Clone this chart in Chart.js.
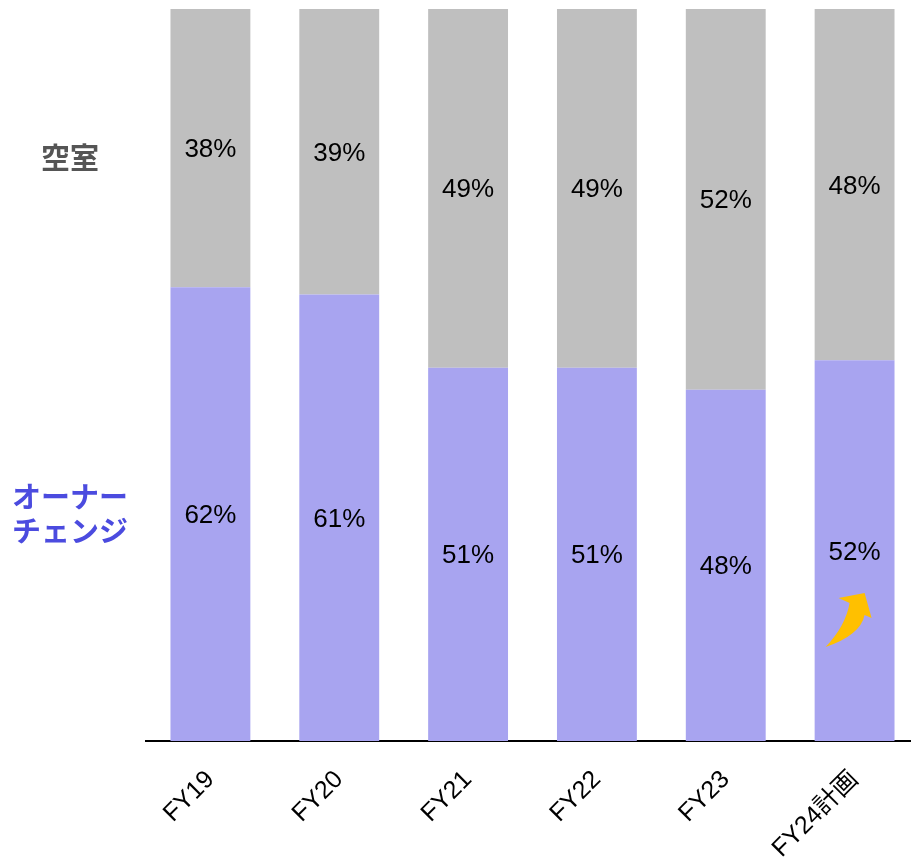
<!DOCTYPE html>
<html lang="ja">
<head>
<meta charset="utf-8">
<title>空室・オーナーチェンジ比率</title>
<script src="https://cdn.jsdelivr.net/npm/chart.js@4.4.0/dist/chart.umd.min.js"></script>
<style>
  html, body { margin: 0; padding: 0; background: #fff; overflow: hidden; }
  #wrap { position: relative; width: 920px; height: 859px; }
</style>
</head>
<body>
<div id="wrap"><canvas id="ratio-chart"></canvas></div>
<script>
// fiscal years on the x axis
const years = ['FY19', 'FY20', 'FY21', 'FY22', 'FY23', 'FY24計画'];
// share of owner-change deals (%), bottom of each bar
const ownerChange = [62, 61, 51, 51, 48, 52];
// share of vacant deals (%), top of each bar
const vacant = [38, 39, 49, 49, 52, 48];

const seriesNames = ['オーナーチェンジ', '空室'];
const colors = { owner: '#a8a4f0', vacant: '#bfbfbf' };
const jpFont = '"Liberation Sans", "Noto Sans CJK JP", sans-serif';

// percentage text centred inside every segment
const segmentLabels = {
    id: 'segmentLabels',
    afterDatasetsDraw(chart) {
        const ctx = chart.ctx;
        ctx.save();
        ctx.font = '26px ' + jpFont;
        ctx.fillStyle = '#000';
        ctx.textAlign = 'center';
        ctx.textBaseline = 'alphabetic';
        chart.data.datasets.forEach((ds, i) => {
            chart.getDatasetMeta(i).data.forEach((bar, j) => {
                const mid = (bar.y + bar.base) / 2;
                ctx.fillText(ds.data[j] + '%', bar.x, mid + 9);
            });
        });
        ctx.restore();
    }
};

// series names written to the left of the first bar
const sideLegend = {
    id: 'sideLegend',
    afterDraw(chart) {
        const ctx = chart.ctx;
        const x = chart.chartArea.left / 2 - 3;
        const owner = chart.getDatasetMeta(0).data[0];
        const vac = chart.getDatasetMeta(1).data[0];
        ctx.save();
        ctx.textAlign = 'center';
        ctx.textBaseline = 'middle';
        ctx.font = 'bold 29px "Noto Sans CJK JP", sans-serif';
        ctx.fillStyle = '#555555';
        ctx.fillText(seriesNames[1], x, (vac.y + vac.base) / 2 + 10);
        ctx.fillStyle = '#4b4bdf';
        const oy = (owner.y + owner.base) / 2;
        ctx.fillText('オーナー', x, oy - 17);
        ctx.fillText('チェンジ', x, oy + 17);
        ctx.restore();
    }
};

// rising arrow inside the plan bar
const planArrow = {
    id: 'planArrow',
    afterDatasetsDraw(chart) {
        const meta = chart.getDatasetMeta(0);
        const bar = meta.data[meta.data.length - 1];
        const cx = bar.x, by = bar.base;
        const p = (dx, dy) => [cx + dx, by + dy];
        const ctx = chart.ctx;
        ctx.save();
        ctx.fillStyle = '#ffc000';
        ctx.beginPath();
        ctx.moveTo(...p(-29, -94));
        ctx.quadraticCurveTo(...p(-9, -115), ...p(-5, -138));
        ctx.lineTo(...p(-16, -143));
        ctx.lineTo(...p(10, -148));
        ctx.lineTo(...p(17, -123));
        ctx.lineTo(...p(10, -126));
        ctx.quadraticCurveTo(...p(6, -106), ...p(-29, -94));
        ctx.closePath();
        ctx.fill();
        ctx.restore();
    }
};

const ctx = document.getElementById('ratio-chart').getContext('2d');
new Chart(ctx, {
    type: 'bar',
    data: {
        labels: years,
        datasets: [
            { label: seriesNames[0], data: ownerChange, backgroundColor: colors.owner },
            { label: seriesNames[1], data: vacant, backgroundColor: colors.vacant }
        ]
    },
    options: {
        responsive: true,
        maintainAspectRatio: false,
        animation: false,
        layout: { padding: { left: 146, right: 1, top: 9, bottom: 0 } },
        datasets: { bar: { barPercentage: 0.62, categoryPercentage: 1 } },
        plugins: { legend: { display: false }, tooltip: { enabled: false } },
        scales: {
            x: {
                stacked: true,
                grid: { display: false, drawTicks: false },
                border: { display: true, color: '#000', width: 2 },
                ticks: {
                    color: '#000',
                    font: { size: 25, family: jpFont },
                    minRotation: 45,
                    maxRotation: 45,
                    autoSkip: false,
                    padding: 24
                },
                afterFit(scale) { scale.height = 118; }
            },
            y: {
                stacked: true,
                display: false,
                min: 0,
                max: 100
            }
        }
    },
    plugins: [segmentLabels, sideLegend, planArrow]
});
</script>
</body>
</html>
